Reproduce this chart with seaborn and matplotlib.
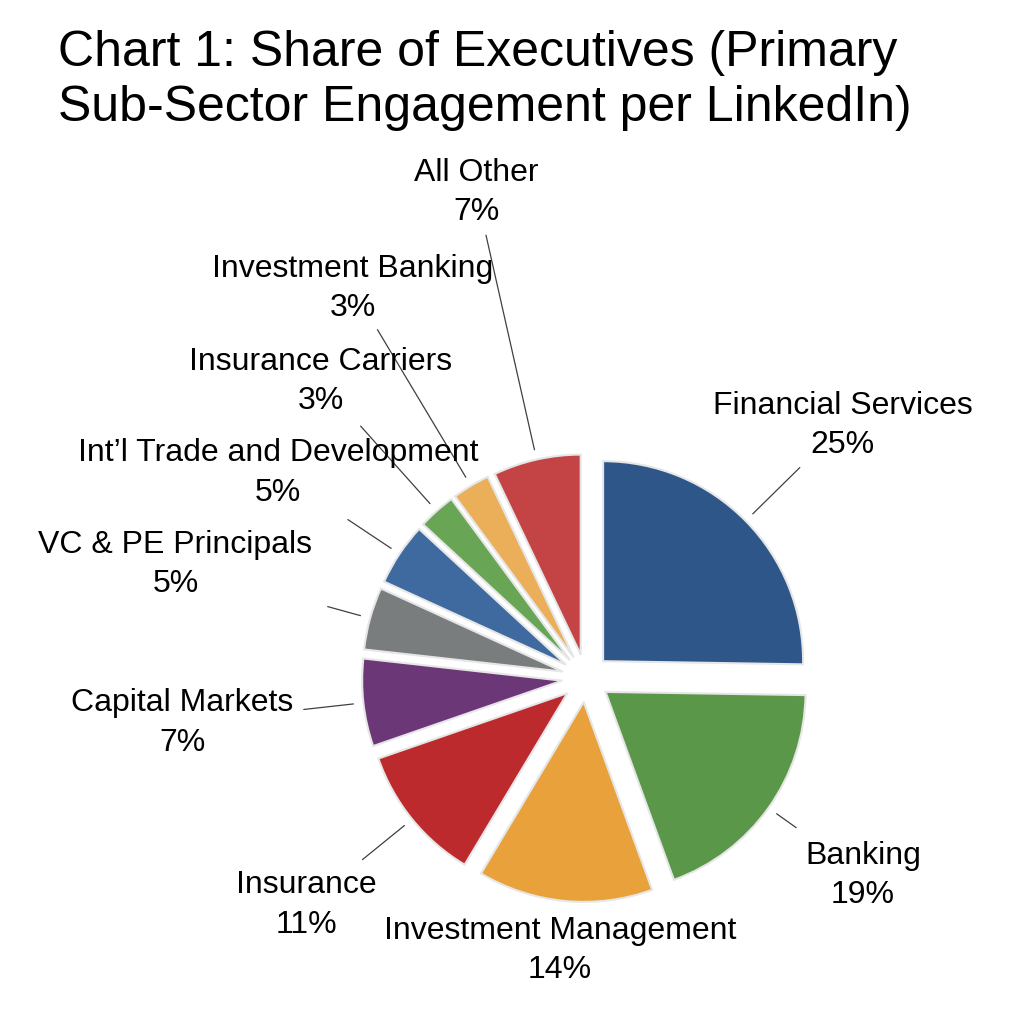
import numpy as np
import matplotlib
matplotlib.use("agg")
import matplotlib.pyplot as plt
import seaborn as sns

# data, clockwise from 12 o'clock
sectors = ["Financial Services", "Banking", "Investment Management", "Insurance",
           "Capital Markets", "VC & PE Principals", "Int\u2019l Trade and Development",
           "Insurance Carriers", "Investment Banking", "All Other"]
shares = [25, 19, 14, 11, 7, 5, 5, 3, 3, 7]
colors = ["#2E5689", "#5B9749", "#E9A13B", "#BD2A2E", "#6C3777",
          "#7A7D7E", "#3E6AA0", "#68A555", "#EBAE59", "#C44446"]

# label layout (radius in units of pie radius, along each slice mid angle)
label_r = [1.80, 1.70, 1.37, 1.80, 2.03, 2.13, 1.85, 1.99, 2.27, 2.49]
line_end = [1.50, 1.29, None, 1.44, 1.42, 1.34, 1.43, 1.69, 2.03, 2.27]

sns.set_theme(style="white")
plt.rcParams['font.family'] = ['Liberation Sans', 'DejaVu Sans']

W, H = 1024, 1017
fig = plt.figure(figsize=(W / 100, H / 100), dpi=100)
ax = fig.add_axes([0, 0, 1, 1])

cx, cy = 586, H - 678
R = 200

# explode is in data units, not a fraction of the radius
wedges, _ = ax.pie(shares, colors=colors, startangle=90, counterclock=False,
                   explode=[0.12 * R] * len(shares), center=(cx, cy), radius=R,
                   wedgeprops=dict(edgecolor='#e6e6e6', linewidth=1.5))
# pie resets the limits, so set the pixel frame afterwards
ax.set_xlim(0, W)
ax.set_ylim(0, H)
ax.set_aspect('equal')
ax.axis('off')

total = sum(shares)
cum = np.cumsum([0] + shares)
for i, name in enumerate(sectors):
    mid = np.deg2rad(90 - (cum[i] + shares[i] / 2) / total * 360)
    ux, uy = np.cos(mid), np.sin(mid)
    if line_end[i] is not None:
        ax.plot([cx + 1.17 * R * ux, cx + line_end[i] * R * ux],
                [cy + 1.17 * R * uy, cy + line_end[i] * R * uy],
                color='#404040', lw=0.9)
    pct = round(shares[i] / total * 100)
    ax.text(cx + label_r[i] * R * ux, cy + label_r[i] * R * uy,
            f"{name}\n{pct}%", ha='center', va='center', fontsize=23,
            linespacing=1.4, color='black')

fig.text(58 / W, 1 - 66 / H, "Chart 1: Share of Executives (Primary",
         fontsize=36, ha='left', va='baseline', color='black')
fig.text(58 / W, 1 - 121 / H, "Sub-Sector Engagement per LinkedIn)",
         fontsize=36, ha='left', va='baseline', color='black')

fig.savefig("out.png", dpi=100, facecolor='white')
